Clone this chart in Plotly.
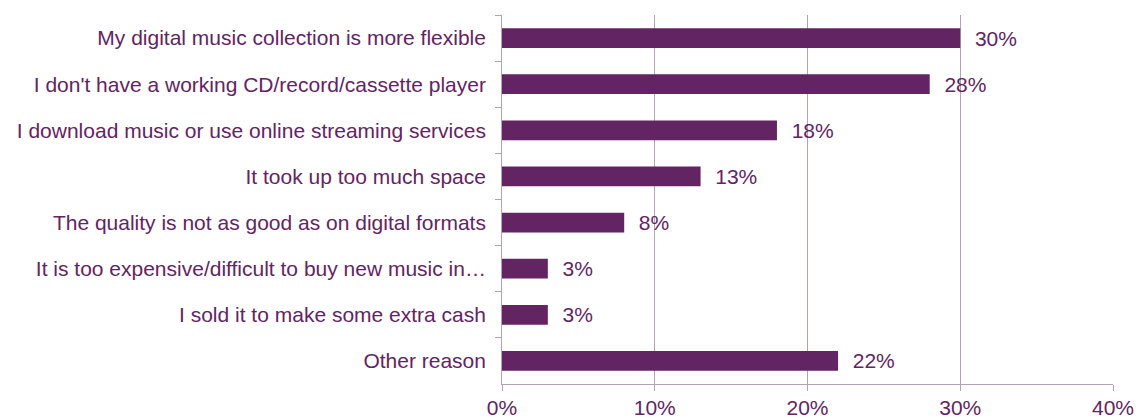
import plotly.graph_objects as go

categories = [
    "My digital music collection is more flexible",
    "I don't have a working CD/record/cassette player",
    "I download music or use online streaming services",
    "It took up too much space",
    "The quality is not as good as on digital formats",
    "It is too expensive/difficult to buy new music in…",
    "I sold it to make some extra cash",
    "Other reason",
]
values = [30, 28, 18, 13, 8, 3, 3, 22]
labels = [f"  {v}%" for v in values]
tick_vals = [0, 10, 20, 30, 40]
tick_text = ["0%", "10%", "20%", "30%", "40%"]

purple = "#632463"
grid = "#b4a2b4"
fnt = "Liberation Sans, Arial"

fig = go.Figure(go.Bar(
    x=values, y=categories, orientation="h",
    marker=dict(color=purple, line=dict(width=0)),
    text=labels, textposition="outside", constraintext="none",
    textfont=dict(color=purple, size=21, family=fnt),
    cliponaxis=False,
))
fig.update_layout(
    width=1138, height=418,
    margin=dict(l=502, r=25, t=15, b=34, autoexpand=False),
    plot_bgcolor="white", paper_bgcolor="white",
    bargap=0.57,
    font=dict(family=fnt, size=21, color=purple),
    showlegend=False,
)
fig.update_xaxes(
    range=[0, 40], tickvals=tick_vals, ticktext=tick_text,
    showgrid=True, gridcolor=grid, gridwidth=1,
    showline=True, linecolor=grid, linewidth=1,
    ticks="outside", ticklen=6, tickcolor=grid, ticklabelstandoff=-1,
    zeroline=False, tickfont=dict(size=21, color=purple, family=fnt),
    automargin=False,
)
fig.update_yaxes(
    autorange="reversed",
    showline=True, linecolor=grid, linewidth=1,
    ticks="outside", ticklen=6, tickcolor=grid, tickson="boundaries",
    showgrid=False, ticksuffix=" ", ticklabelstandoff=5,
    tickfont=dict(size=21, color=purple, family=fnt),
    automargin=False,
)
fig.write_html(
    "out.html",
    config={"displayModeBar": False},
    post_script="document.body.style.margin='0';document.body.style.overflow='hidden';",
)
